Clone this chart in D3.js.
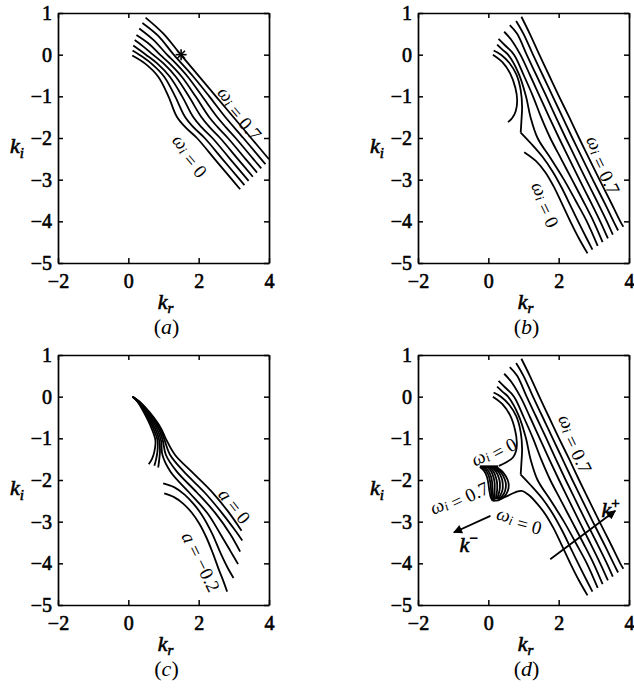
<!DOCTYPE html>
<html>
<head>
<meta charset="utf-8">
<script src="https://cdn.jsdelivr.net/npm/d3@7"></script>
<style>
  body { margin: 0; background: #fff; }
  svg text { font-family: "Liberation Serif", "Times New Roman", serif; fill: #000; }
  svg text.heavy { stroke: #000; stroke-width: 0.6px; }
</style>
</head>
<body>
<svg id="chart" width="634" height="692"></svg>
<script>
// tick values shared by all four panels
const krTicks = [-2, 0, 2, 4];
const kiTicks = [1, 0, -1, -2, -3, -4, -5];

// (a) contours omega_i = 0 ... 0.7, points are [kr, ki]
const curvesA = [
  [[0.11,-0.02],[0.47,-0.21],[0.85,-0.53],[1.14,-1.0],[1.38,-1.49],[1.62,-1.74],[1.95,-2.0],[2.45,-2.5],[2.95,-3.0],[3.18,-3.23]],
  [[0.12,0.10],[0.31,0],[0.65,-0.21],[1.02,-0.53],[1.33,-1.0],[1.61,-1.49],[1.85,-1.74],[2.17,-2.0],[2.67,-2.5],[3.17,-3.0],[3.30,-3.13]],
  [[0.14,0.22],[0.50,0],[0.82,-0.21],[1.18,-0.53],[1.53,-1.0],[1.84,-1.49],[2.08,-1.74],[2.39,-2.0],[2.89,-2.5],[3.42,-3.03]],
  [[0.18,0.35],[0.42,0.2],[0.70,0],[1.00,-0.21],[1.35,-0.53],[1.72,-1.0],[2.07,-1.49],[2.31,-1.74],[2.61,-2.0],[3.11,-2.5],[3.54,-2.93]],
  [[0.23,0.47],[0.60,0.25],[0.90,0],[1.17,-0.21],[1.52,-0.53],[1.91,-1.0],[2.29,-1.49],[2.54,-1.74],[2.83,-2.0],[3.33,-2.5],[3.66,-2.83]],
  [[0.31,0.63],[0.72,0.35],[1.10,0],[1.35,-0.21],[1.69,-0.53],[2.10,-1.0],[2.52,-1.49],[2.77,-1.74],[3.05,-2.0],[3.55,-2.5],[3.78,-2.73]],
  [[0.40,0.76],[0.85,0.45],[1.29,0],[1.85,-0.53],[2.30,-1.0],[2.75,-1.49],[3.27,-2.0],[3.77,-2.5],[3.90,-2.63]],
  [[0.49,0.89],[0.99,0.51],[1.49,0],[2.49,-1.0],[3.49,-2.0],[4.0,-2.51]]
];
const starA = [1.5, 0];

// (b) contours, omega_i = 0 has two branches, 0.1 has a kink
const curvesB = [
  [[0.13,0],[0.40,-0.18],[0.62,-0.45],[0.77,-0.8],[0.82,-1.1],[0.78,-1.35],[0.68,-1.52],[0.56,-1.62]],
  [[1.02,-2.34],[1.35,-2.55],[1.62,-2.82],[1.85,-3.15],[2.08,-3.55],[2.32,-3.98],[2.57,-4.4],[2.82,-4.77]],
  [[0.15,0.10],[0.36,0],[0.60,-0.2],[0.80,-0.48],[0.92,-0.85],[0.96,-1.25],[0.94,-1.6],[0.92,-1.87]],
  [[0.92,-1.87],[1.20,-2.12],[1.54,-2.45],[1.84,-2.82],[2.09,-3.2],[2.38,-3.7],[2.67,-4.2],[2.96,-4.68]],
  [[0.25,0.24],[0.40,0.12],[0.56,0],[0.86,-0.45],[1.07,-1.0],[1.20,-1.5],[1.40,-2.0],[1.78,-2.5],[2.15,-3.0],[2.48,-3.5],[2.80,-4.0],[3.11,-4.59]],
  [[0.29,0.38],[0.48,0.22],[0.73,0],[1.01,-0.5],[1.27,-1],[1.50,-1.5],[1.76,-2],[2.07,-2.5],[2.38,-3],[2.69,-3.5],[2.99,-4],[3.25,-4.50]],
  [[0.45,0.55],[0.63,0.38],[0.91,0],[1.19,-0.5],[1.46,-1],[1.73,-1.5],[2.01,-2],[2.30,-2.5],[2.59,-3],[2.89,-3.5],[3.18,-4],[3.40,-4.41]],
  [[0.61,0.71],[0.82,0.5],[1.09,0],[1.37,-0.5],[1.65,-1],[1.92,-1.5],[2.20,-2],[2.49,-2.5],[2.78,-3],[3.08,-3.5],[3.37,-4],[3.54,-4.32]],
  [[0.79,0.81],[1.0,0.5],[1.27,0],[1.55,-0.5],[1.83,-1],[2.11,-1.5],[2.39,-2],[2.68,-2.5],[2.97,-3],[3.27,-3.5],[3.56,-4],[3.69,-4.22]],
  [[0.94,0.91],[1.18,0.5],[1.45,0],[1.73,-0.5],[2.01,-1],[2.30,-1.5],[2.58,-2],[2.87,-2.5],[3.16,-3],[3.46,-3.5],[3.75,-4],[3.84,-4.13]]
];

// (c) contours a = 0 ... -0.2 (stubs, four through the cusp, two lower branches)
const curvesC = [
  [[0.12,0],[0.26,-0.12],[0.43,-0.36],[0.66,-0.76],[0.77,-1.05],[0.74,-1.32],[0.67,-1.5],[0.58,-1.62]],
  [[0.12,0],[0.27,-0.12],[0.46,-0.36],[0.71,-0.76],[0.83,-1.05],[0.83,-1.3],[0.79,-1.5],[0.74,-1.66]],
  [[0.12,0],[0.28,-0.12],[0.49,-0.36],[0.76,-0.76],[0.88,-1.05],[0.90,-1.3],[0.88,-1.5],[0.85,-1.70]],
  [[0.12,0],[0.29,-0.12],[0.52,-0.36],[0.81,-0.76],[0.93,-1.05],[0.97,-1.4],[1.20,-1.8],[1.73,-2.3],[2.25,-2.8],[2.62,-3.3],[2.90,-3.7],[3.12,-4.02]],
  [[0.12,0],[0.30,-0.12],[0.55,-0.36],[0.86,-0.76],[0.98,-1.05],[1.07,-1.4],[1.38,-1.8],[1.95,-2.3],[2.48,-2.8],[2.90,-3.3],[3.18,-3.72]],
  [[0.12,0],[0.31,-0.12],[0.57,-0.36],[0.90,-0.76],[1.02,-1.02],[1.19,-1.4],[1.58,-1.8],[2.17,-2.3],[2.67,-2.8],[3.03,-3.2],[3.24,-3.45]],
  [[0.12,0],[0.32,-0.12],[0.59,-0.36],[0.93,-0.76],[1.06,-1.0],[1.33,-1.4],[1.80,-1.8],[2.37,-2.28],[2.84,-2.76],[3.22,-3.22]],
  [[0.99,-2.08],[1.30,-2.17],[1.60,-2.35],[1.86,-2.58],[2.10,-2.85],[2.38,-3.28],[2.62,-3.75],[2.82,-4.1],[2.99,-4.35]],
  [[1.02,-2.32],[1.30,-2.41],[1.55,-2.56],[1.80,-2.78],[2.02,-3.05],[2.22,-3.38],[2.40,-3.75],[2.56,-4.12],[2.70,-4.42],[2.81,-4.68]]
];

// (d) omega_i = 0: upper branch runs into the cut, lower branch leaves the closed family
const curvesDZero = [
  [[0.13,0],[0.40,-0.18],[0.62,-0.45],[0.76,-0.8],[0.81,-1.1],[0.79,-1.3],[0.70,-1.46],[0.50,-1.58],[0.30,-1.66]],
  [[0.30,-2.48],[0.55,-2.38],[0.78,-2.29],[0.95,-2.26],[1.15,-2.36],[1.38,-2.56],[1.62,-2.82],[1.85,-3.15],[2.08,-3.55],[2.32,-3.98],[2.57,-4.4],[2.82,-4.77]]
];
// (d) closed family left of the saddle, plus the cut at ki = -1.68
const curvesDLeft = [
  [[-0.24,-1.67],[0.28,-1.67]],
  [[-0.24,-1.69],[0.25,-1.69]],
  [[-0.24,-1.69],[-0.12,-1.78],[-0.04,-1.92],[0.0,-2.08],[0.03,-2.26],[0.07,-2.42],[0.12,-2.50]],
  [[-0.17,-1.69],[-0.06,-1.78],[0.02,-1.92],[0.06,-2.08],[0.08,-2.26],[0.10,-2.41],[0.14,-2.49]],
  [[-0.10,-1.69],[0.0,-1.78],[0.08,-1.93],[0.11,-2.08],[0.12,-2.25],[0.14,-2.40],[0.17,-2.48]],
  [[-0.03,-1.69],[0.08,-1.79],[0.15,-1.94],[0.18,-2.08],[0.18,-2.24],[0.18,-2.38],[0.20,-2.47]],
  [[0.03,-1.69],[0.15,-1.8],[0.22,-1.95],[0.25,-2.08],[0.25,-2.24],[0.23,-2.37],[0.22,-2.46]],
  [[0.09,-1.69],[0.22,-1.8],[0.30,-1.95],[0.33,-2.08],[0.32,-2.24],[0.28,-2.37],[0.24,-2.46]],
  [[0.14,-1.69],[0.29,-1.81],[0.38,-1.96],[0.41,-2.1],[0.40,-2.25],[0.34,-2.37],[0.26,-2.46]],
  [[0.19,-1.69],[0.36,-1.82],[0.46,-1.97],[0.50,-2.1],[0.48,-2.25],[0.40,-2.38],[0.28,-2.47]],
  [[0.24,-1.69],[0.44,-1.84],[0.55,-2.0],[0.58,-2.13],[0.55,-2.27],[0.45,-2.40],[0.30,-2.48]],
  [[0.12,-2.50],[0.30,-2.49]]
];
// (d) arrows: [start, end]
const arrowKMinus = [[0.06,-2.86],[-0.98,-3.26]];
const arrowKPlus = [[1.76,-3.90],[3.61,-2.74]];

// contour labels: [kr, ki, text, rotation]
const labelsA = [[3.22,-1.37,"0.7",50],[1.80,-2.39,"0",50]];
const labelsB = [[3.33,-2.62,"0.7",64],[1.68,-3.57,"0",64]];
const labelsC = [[3.03,-2.62,"0",52],[2.08,-3.96,"\u22120.2",64]];
const labelsD = [[2.53,-1.1,"0.7",64],[0.12,-1.27,"0",-28],[-0.86,-2.38,"0.7",-25],[0.90,-2.92,"0",15]];

const svg = d3.select("#chart");
const W = 211, H = 250;
const serif = "Liberation Serif";

svg.append("defs").append("marker")
  .attr("id", "head")
  .attr("viewBox", "0 0 10 10")
  .attr("refX", 9).attr("refY", 5)
  .attr("markerWidth", 6).attr("markerHeight", 5)
  .attr("markerUnits", "strokeWidth")
  .attr("orient", "auto")
  .append("path").attr("d", "M0,0 L10,5 L0,10 z").attr("fill", "#000");

function panel(left, top, letter, curves, labels, kind) {
  const g = svg.append("g").attr("transform", "translate(" + left + "," + top + ")")
    .attr("font-family", serif);
  const x = d3.scaleLinear().domain([-2, 4]).range([0, W]);
  const y = d3.scaleLinear().domain([-5, 1]).range([H, 0]);

  const line = d3.line()
    .x(function (d) { return x(d[0]); })
    .y(function (d) { return y(d[1]); })
    .curve(d3.curveCatmullRom.alpha(0.5));

  g.selectAll("path.c")
    .data(curves)
    .join("path")
    .attr("class", "c")
    .attr("d", line)
    .attr("fill", "none")
    .attr("stroke", "#000")
    .attr("stroke-width", 1.8)
    .attr("stroke-linejoin", "round");

  // axes box with inward ticks on all sides
  const fmt = d3.format("d");
  const axes = [
    g.append("g").attr("transform", "translate(0," + H + ")")
      .call(d3.axisBottom(x).tickValues(krTicks).tickFormat(fmt).tickSize(-5).tickSizeOuter(0).tickPadding(11)),
    g.append("g")
      .call(d3.axisLeft(y).tickValues(kiTicks).tickFormat(fmt).tickSize(-5).tickSizeOuter(0).tickPadding(6)),
    g.append("g")
      .call(d3.axisTop(x).tickValues(krTicks).tickSize(-5).tickSizeOuter(0).tickFormat("")),
    g.append("g").attr("transform", "translate(" + W + ",0)")
      .call(d3.axisRight(y).tickValues(kiTicks).tickSize(-5).tickSizeOuter(0).tickFormat(""))
  ];
  axes.forEach(function (a) {
    a.attr("font-family", serif).attr("font-size", 20);
    a.select(".domain").attr("stroke", "#000").attr("stroke-width", 1.7);
    a.selectAll(".tick line").attr("stroke", "#000").attr("stroke-width", 1.5);
    a.selectAll(".tick text").attr("class", "heavy")
      .attr("font-family", serif).attr("font-size", 20);
  });

  // contour labels
  labels.forEach(function (l) {
    const t = g.append("text")
      .attr("transform", "translate(" + x(l[0]) + "," + y(l[1]) + ") rotate(" + l[3] + ")")
      .attr("text-anchor", "middle")
      .attr("dominant-baseline", "central")
      .attr("font-family", serif)
      .attr("font-size", 19);
    if (kind === "c") {
      t.append("tspan").attr("font-style", "italic").text("a");
    } else {
      t.append("tspan").attr("font-style", "italic").text("\u03c9");
      t.append("tspan").attr("font-style", "italic").attr("font-size", 13).attr("dy", "0.3em").text("i");
      t.append("tspan").attr("dy", "-0.3em").text("");
    }
    t.append("tspan").text(" = " + l[2]);
  });

  // axis labels
  const kr = g.append("text").attr("class", "heavy").attr("x", W / 2 + 2).attr("y", H + 46)
    .attr("text-anchor", "middle").attr("font-size", 22).attr("font-style", "italic");
  kr.append("tspan").text("k");
  kr.append("tspan").attr("font-size", 15).attr("dy", "0.25em").text("r");

  const ki = g.append("text").attr("class", "heavy").attr("x", -41).attr("y", 140)
    .attr("text-anchor", "middle").attr("font-size", 22).attr("font-style", "italic");
  ki.append("tspan").text("k");
  ki.append("tspan").attr("font-size", 15).attr("dy", "0.3em").text("i");

  const cap = g.append("text").attr("x", W / 2 + 3).attr("y", H + 71)
    .attr("text-anchor", "middle").attr("font-size", 22);
  cap.append("tspan").text("(");
  cap.append("tspan").attr("font-style", "italic").text(letter);
  cap.append("tspan").text(")");

  return { g: g, x: x, y: y };
}

const pa = panel(58, 13, "a", curvesA, labelsA, "w");
// asterisk marker
const sx = pa.x(starA[0]), sy = pa.y(starA[1]);
[0, 45, 90, 135].forEach(function (ang) {
  const r = 5.5, a = ang * Math.PI / 180;
  pa.g.append("line")
    .attr("x1", sx - r * Math.cos(a)).attr("y1", sy - r * Math.sin(a))
    .attr("x2", sx + r * Math.cos(a)).attr("y2", sy + r * Math.sin(a))
    .attr("stroke", "#000").attr("stroke-width", 1.6);
});

panel(418, 13, "b", curvesB, labelsB, "w");
panel(58, 355, "c", curvesC, labelsC, "c");
const pd = panel(418, 355, "d", curvesB.slice(2).concat(curvesDZero, curvesDLeft), labelsD, "w");

[arrowKMinus, arrowKPlus].forEach(function (p) {
  pd.g.append("line")
    .attr("x1", pd.x(p[0][0])).attr("y1", pd.y(p[0][1]))
    .attr("x2", pd.x(p[1][0])).attr("y2", pd.y(p[1][1]))
    .attr("stroke", "#000").attr("stroke-width", 1.8)
    .attr("marker-end", "url(#head)");
});

// k- and k+ labels
function kLabel(kr, ki, sup) {
  const t = pd.g.append("text").attr("class", "heavy")
    .attr("x", pd.x(kr)).attr("y", pd.y(ki))
    .attr("font-size", 22).attr("font-style", "italic");
  t.append("tspan").text("k");
  t.append("tspan").attr("font-size", 15).attr("dy", "-0.55em").attr("font-style", "normal").text(sup);
}
kLabel(-0.82, -3.72, "\u2212");
kLabel(3.22, -2.88, "+");
</script>
</body>
</html>
